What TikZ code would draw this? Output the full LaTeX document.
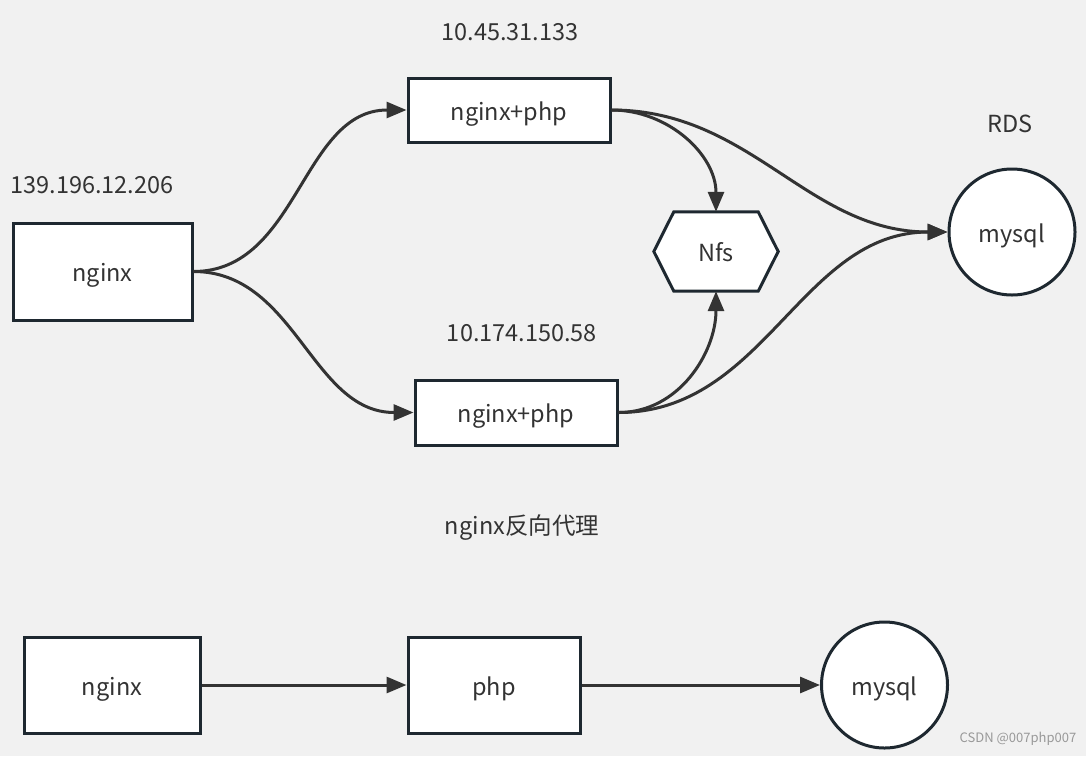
\documentclass[tikz,border=0pt]{standalone}
\usepackage{fontspec}
\setmainfont{Noto Sans CJK SC}
\usetikzlibrary{arrows.meta,shapes.geometric,calc}
\definecolor{bg}{HTML}{F1F1F1}
\definecolor{edge}{HTML}{1E2830}
\definecolor{wire}{HTML}{333333}
\definecolor{txt}{HTML}{333333}
\begin{document}
\begin{tikzpicture}[x=1pt,y=-1pt,
  txtpos/.style={text height=24pt,text depth=4pt},
  box/.style={draw=edge,fill=white,line width=3pt,inner sep=0pt,txtpos,font=\fontsize{23.5}{28}\selectfont,text=txt},
  dbnode/.style={draw=edge,fill=white,line width=3pt,circle,inner sep=0pt,minimum size=126pt,txtpos,font=\fontsize{23.5}{28}\selectfont,text=txt},
  lbl/.style={font=\fontsize{23.5}{28}\selectfont,text=txt,inner sep=0pt},
  wirearrow/.style={draw=wire,line width=3pt,-{Triangle[length=20pt,width=16pt]}}
]
\fill[bg] (0,0) rectangle (1086,756);
\useasboundingbox (0,0) rectangle (1086,756);

% labels
\node[lbl] (l1) at (510,32) {10.45.31.133};
\node[lbl] (l2) at (92,185) {139.196.12.206};
\node[lbl] (l3) at (522,333) {10.174.150.58};
\node[lbl] (l4) at (1010,124) {RDS};
\node[lbl] (l5) at (522,528) {nginx反向代理};
\node[font=\fontsize{13}{15}\selectfont,text=gray!80,inner sep=0pt] (wm) at (1018,739) {CSDN @007php007};

% top diagram
\node[box,minimum width=179pt,minimum height=97pt] (ngx) at (102.5,271.5) {nginx};
\node[box,minimum width=202pt,minimum height=64pt] (np1) at (509,110) {nginx+php};
\node[box,minimum width=202pt,minimum height=65pt] (np2) at (516,412.5) {nginx+php};
\node[inner sep=0pt,minimum width=124pt,minimum height=79pt] (nfs) at (716,251.5) {};
\draw[draw=edge,fill=white,line width=3pt,line join=miter]
  (nfs.west) -- ($(nfs.north west)+(20,0)$) -- ($(nfs.north east)+(-20,0)$) -- (nfs.east)
  -- ($(nfs.south east)+(-20,0)$) -- ($(nfs.south west)+(20,0)$) -- cycle;
\node[lbl,txtpos] (nfst) at (nfs.center) {Nfs};
\node[dbnode] (db1) at (1012,232) {mysql};

\draw[wirearrow] (ngx.east) to[out=0,in=180] (np1.west);
\draw[wirearrow] (ngx.east) to[out=0,in=180] (np2.west);
\draw[wirearrow] (np1.east) to[out=0,in=90] (nfs.north);
\draw[wirearrow] (np2.east) to[out=0,in=-90] (nfs.south);
\draw[wirearrow] (np1.east) to[out=0,in=180] (db1.west);
\draw[wirearrow] (np2.east) to[out=0,in=180] (db1.west);

% bottom diagram
\node[box,minimum width=176pt,minimum height=96pt] (ngx2) at (112,685) {nginx};
\node[box,minimum width=172pt,minimum height=96pt] (php) at (494,685) {php};
\node[dbnode] (db2) at (884.5,685) {mysql};
\draw[wirearrow] (ngx2.east) -- (php.west);
\draw[wirearrow] (php.east) -- (db2.west);
\end{tikzpicture}
\end{document}
